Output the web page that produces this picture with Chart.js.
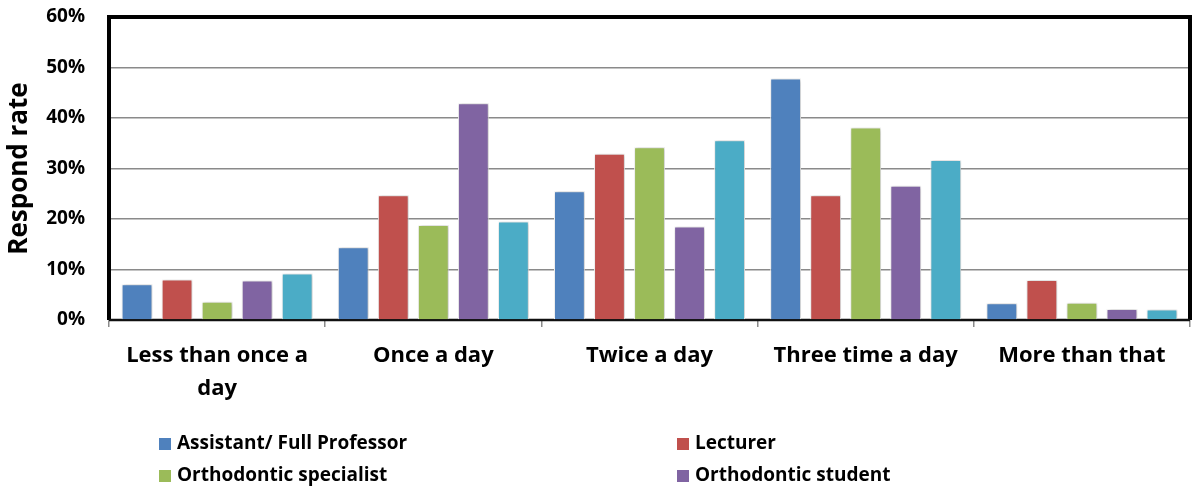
<!DOCTYPE html>
<html>
<head>
<meta charset="utf-8">
<script src="https://cdn.jsdelivr.net/npm/chart.js@4/dist/chart.umd.min.js"></script>
<style>
  html, body { margin: 0; padding: 0; background: #fff; }
  #wrap { width: 1194px; height: 490px; }
</style>
</head>
<body>
<div id="wrap"><canvas id="c" width="1194" height="490"></canvas></div>
<script>
// Brushing frequency by respondent group (% of each group)
const categories = [['Less than once a', 'day'], 'Once a day', 'Twice a day', 'Three time a day', 'More than that'];
const seriesNames = ['Assistant/ Full Professor', 'Lecturer', 'Orthodontic specialist', 'Orthodontic student', 'Total'];
const professors  = [7.1, 14.4, 25.5, 47.8, 3.3];
const lecturers   = [8.0, 24.7, 32.9, 24.7, 7.9];
const specialists = [3.6, 18.8, 34.2, 38.1, 3.4];
const students    = [7.8, 42.9, 18.5, 26.6, 2.2];
const overall     = [9.2, 19.5, 35.6, 31.7, 2.1];
const yTicks = [0, 10, 20, 30, 40, 50, 60];
const colors = ['#4F81BD', '#C0504D', '#9BBB59', '#8064A2', '#4BACC6'];
const legendCount = 4; // the last series has no legend entry

const FONT = '"Open Sans", Lato, sans-serif';

const seriesValues = [professors, lecturers, specialists, students, overall];
const datasets = seriesValues.map((vals, i) => ({
  label: seriesNames[i],
  data: vals,
  backgroundColor: colors[i],
  borderColor: '#ffffff',
  borderWidth: 1,
  categoryPercentage: 0.926,
  barPercentage: 0.77
}));

// Black plot frame, drawn under the bars so the baseline shows between them
const framePlugin = {
  id: 'frame',
  beforeDatasetsDraw(chart) {
    const { ctx, chartArea: a } = chart;
    ctx.save();
    ctx.strokeStyle = '#000';
    ctx.lineWidth = 4;
    ctx.beginPath();
    ctx.moveTo(a.left, a.bottom);
    ctx.lineTo(a.left, a.top);
    ctx.lineTo(a.right, a.top);
    ctx.lineTo(a.right, a.bottom);
    ctx.stroke();
    ctx.lineWidth = 2.5;
    ctx.strokeStyle = '#111';
    ctx.beginPath();
    ctx.moveTo(a.left, a.bottom);
    ctx.lineTo(a.right, a.bottom);
    ctx.stroke();
    ctx.restore();
    // soft shadow behind the bars
    ctx.save();
    ctx.shadowColor = 'rgba(0,0,0,0.28)';
    ctx.shadowBlur = 4;
    ctx.shadowOffsetX = 1;
    ctx.shadowOffsetY = 0;
  },
  afterDatasetsDraw(chart) {
    chart.ctx.restore();
  }
};

// Two-column legend below the axis labels
const legendPlugin = {
  id: 'gridLegend',
  afterDraw(chart) {
    const { ctx, chartArea: a } = chart;
    const colX = [a.left + 50, a.left + 568];
    const rowY = [a.bottom + 124, a.bottom + 156];
    ctx.save();
    ctx.font = 'bold 19px ' + FONT;
    ctx.textBaseline = 'middle';
    ctx.textAlign = 'left';
    for (let i = 0; i < legendCount; i++) {
      const ds = chart.data.datasets[i];
      const x = colX[i % 2], y = rowY[Math.floor(i / 2)];
      ctx.fillStyle = ds.backgroundColor;
      ctx.fillRect(x, y - 6, 12, 12);
      ctx.fillStyle = '#000';
      ctx.fillText(ds.label, x + 18, y);
    }
    ctx.restore();
  }
};

new Chart(document.getElementById('c'), {
  type: 'bar',
  data: { labels: categories, datasets },
  plugins: [framePlugin, legendPlugin],
  options: {
    responsive: false,
    animation: false,
    layout: { padding: { top: 17, right: 4, left: 0, bottom: 80 } },
    plugins: { legend: { display: false }, tooltip: { enabled: false } },
    scales: {
      x: {
        grid: { display: true, drawOnChartArea: false, drawTicks: true, tickLength: 7, color: '#8a8a8a', lineWidth: 1.5, offset: true },
        border: { display: true, color: '#8a8a8a', width: 1.5 },
        ticks: { color: '#000', font: { family: FONT, size: 22, weight: 'bold', lineHeight: 1.5 }, padding: 12, maxRotation: 0, autoSkip: false },
        afterFit(s) { s.height = 90; }
      },
      y: {
        min: 0, max: 60,
        afterBuildTicks(s) { s.ticks = yTicks.map(v => ({ value: v })); },
        // invisible tick marks keep the labels clear of the frame
        grid: { color: '#8a8a8a', lineWidth: 1.5, drawTicks: true, tickLength: 22, tickColor: 'rgba(0,0,0,0)' },
        border: { display: false },
        ticks: { color: '#000', font: { family: FONT, size: 19, weight: 'bold' }, padding: 2, callback: v => v + '%' },
        title: { display: true, text: 'Respond rate', color: '#000', font: { family: FONT, size: 26, weight: 'bold' }, padding: { top: 4, bottom: 0 } },
        afterFit(s) { s.width = 109; }
      }
    }
  }
});
</script>
</body>
</html>
